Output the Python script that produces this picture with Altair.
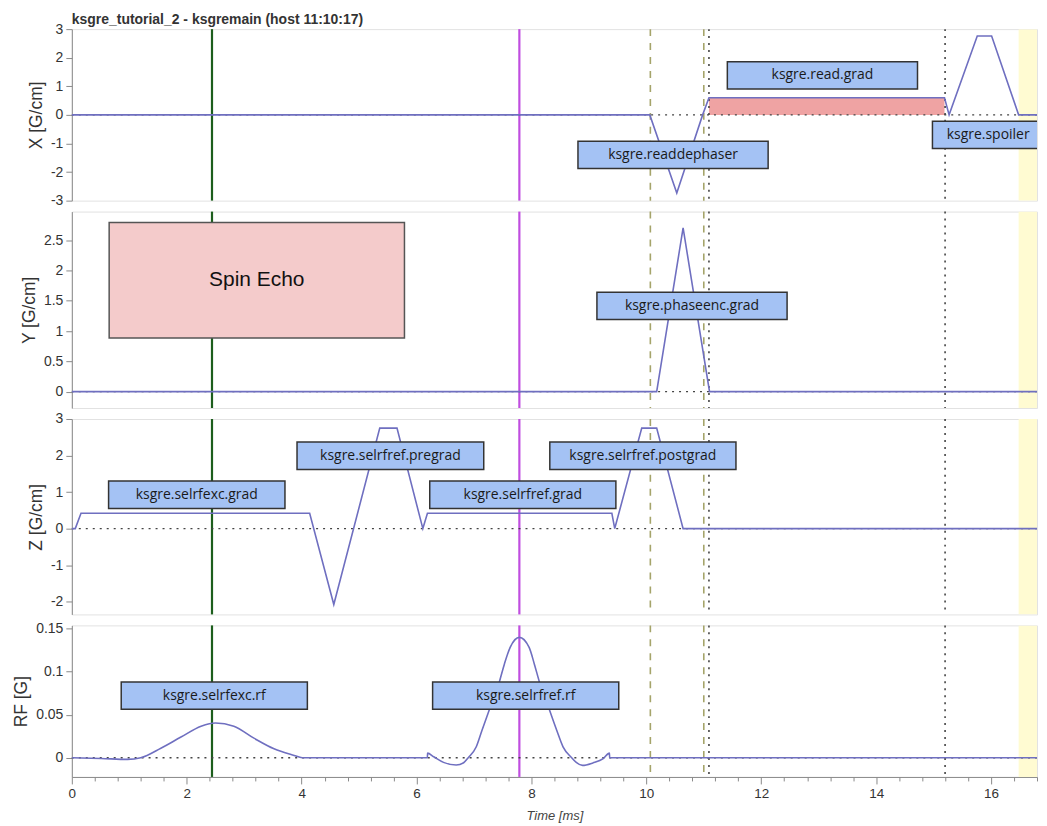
import altair as alt
import pandas as pd

# ---------------- data ----------------
T_MAX = 16.8
chart_title = "ksgre_tutorial_2 - ksgremain (host 11:10:17)"

# X gradient [G/cm]
gx_t = [0, 10.06, 10.53, 10.98, 11.09, 15.19, 15.27, 15.76, 16.01, 16.48, 16.8]
gx_v = [0, 0, -2.73, 0, 0.6, 0.6, 0, 2.76, 2.76, 0, 0]
# read gradient plateau (filled)
read_t = [11.09, 15.19]
read_v = [0.6, 0.6]

# Y gradient [G/cm]
gy_t = [0, 10.18, 10.64, 11.1, 16.8]
gy_v = [0, 0, 2.70, 0, 0]

# Z gradient [G/cm]
gz_t = [0, 0.06, 0.16, 4.14, 4.56, 5.36, 5.66, 6.11, 6.19, 9.40, 9.45, 9.92, 10.18, 10.64, 16.8]
gz_v = [0, 0, 0.42, 0.42, -2.08, 2.75, 2.75, 0, 0.42, 0.42, 0, 2.75, 2.75, 0, 0]

# RF [G]
rf_t = [0, 0.51, 0.97, 1.20, 1.55, 1.90, 2.25, 2.50, 2.82, 3.17, 3.52, 3.87, 4.01,
        6.19, 6.191, 6.30, 6.47, 6.69, 6.82, 6.90, 7.04, 7.14, 7.27, 7.44, 7.53, 7.63,
        7.79, 7.96, 8.05, 8.14, 8.31, 8.44, 8.55, 8.70, 8.78, 8.89, 9.07, 9.25, 9.359,
        9.36, 16.8]
rf_v = [0, -0.0008, -0.0019, 0, 0.011, 0.024, 0.0366, 0.0404, 0.0366, 0.0227, 0.0104, 0.0027, 0,
        0, 0.0054, 0.0011, -0.0054, -0.0085, -0.0058, 0, 0.0127, 0.0319, 0.0562, 0.0877, 0.1089, 0.1281,
        0.1397, 0.1281, 0.1089, 0.0877, 0.0562, 0.0319, 0.0127, 0, -0.0055, -0.0089, -0.0060, -0.0010, 0.0054,
        0, 0]

# vertical markers [ms]
mark_t = [2.44, 7.79, 10.07, 11.0, 11.09, 15.2]
mark_kind = ["exc", "ref", "dash", "dash", "dot", "dot"]

# yellow region
band_t = [16.48]
band_t2 = [16.8]

# annotation boxes
box_panel = ["X", "X", "X", "Y", "Z", "Z", "Z", "Z", "RF", "RF"]
box_label = ["ksgre.read.grad", "ksgre.readdephaser", "ksgre.spoiler", "ksgre.phaseenc.grad",
             "ksgre.selrfexc.grad", "ksgre.selrfref.pregrad", "ksgre.selrfref.grad",
             "ksgre.selrfref.postgrad", "ksgre.selrfexc.rf", "ksgre.selrfref.rf"]
box_t0 = [11.41, 8.81, 14.98, 9.14, 0.64, 3.92, 6.23, 8.32, 0.86, 6.28]
box_t1 = [14.72, 12.12, 16.92, 12.45, 3.71, 7.17, 9.47, 11.56, 4.10, 9.52]
box_v0 = [0.905, -1.88, -1.18, 1.19, 0.55, 1.62, 0.55, 1.62, 0.0562, 0.0562]
box_v1 = [1.86, -0.92, -0.22, 1.64, 1.30, 2.37, 1.30, 2.37, 0.0878, 0.0878]

# "Spin Echo" box in Y panel
se_label = ["Spin Echo"]
se_t0 = [0.65]
se_t1 = [5.79]
se_v0 = [0.887]
se_v1 = [2.79]

# panels
panel_keys = ["X", "Y", "Z", "RF"]
panel_titles = ["X [G/cm]", "Y [G/cm]", "Z [G/cm]", "RF [G]"]
panel_domains = [[-3, 3], [-0.27, 2.97], [-2.35, 3], [-0.0223, 0.1536]]
panel_ticks = [[-3, -2, -1, 0, 1, 2, 3], [0, 0.5, 1, 1.5, 2, 2.5],
               [-2, -1, 0, 1, 2, 3], [0, 0.05, 0.1, 0.15]]
x_ticks = [round(i * 0.4, 1) for i in range(43)]

# ---------------- tables ----------------
waves = {
    "X": pd.DataFrame({"t": gx_t, "v": gx_v, "i": range(len(gx_t))}),
    "Y": pd.DataFrame({"t": gy_t, "v": gy_v, "i": range(len(gy_t))}),
    "Z": pd.DataFrame({"t": gz_t, "v": gz_v, "i": range(len(gz_t))}),
    "RF": pd.DataFrame({"t": rf_t, "v": rf_v, "i": range(len(rf_t))}),
}
read_df = pd.DataFrame({"t": read_t, "v": read_v, "b": [0] * len(read_t)})
marks_df = pd.DataFrame({"t": mark_t, "kind": mark_kind})
band_df = pd.DataFrame({"t": band_t, "t2": band_t2})
zero_df = pd.DataFrame({"v": [0]})
box_df = pd.DataFrame({"panel": box_panel, "label": box_label, "t0": box_t0, "t1": box_t1,
                       "v0": box_v0, "v1": box_v1})
box_df["tc"] = (box_df["t0"] + box_df["t1"]) / 2
box_df["vc"] = (box_df["v0"] + box_df["v1"]) / 2
se_df = pd.DataFrame({"label": se_label, "t0": se_t0, "t1": se_t1, "v0": se_v0, "v1": se_v1})
se_df["tc"] = (se_df["t0"] + se_df["t1"]) / 2
se_df["vc"] = (se_df["v0"] + se_df["v1"]) / 2

# ---------------- styles ----------------
FONT = "Liberation Sans"
WAVE = "#6f6fc0"
AXC = "#8a8a8a"
LABC = "#333333"

xscale = alt.Scale(domain=[0, T_MAX], nice=False, zero=False)
xaxis = alt.Axis(
    values=x_ticks,
    labelExpr="datum.value % 2 === 0 ? '' + datum.value : ''",
    tickSize={"condition": {"test": "datum.value % 2 === 0", "value": 7}, "value": 4},
    labelFont=FONT, labelFontSize=13.5, labelColor=LABC, labelPadding=3,
    labelFlush=False, labelOverlap=False, grid=False,
    domainColor=AXC, tickColor=AXC,
    titleFont=FONT, titleFontSize=13, titleFontStyle="italic", titleFontWeight="normal",
    titleColor="#444444", titlePadding=9,
)

heights = [172, 197, 196, 152]


def make_panel(idx):
    key = panel_keys[idx]
    bottom = idx == len(panel_keys) - 1
    ysc = alt.Scale(domain=panel_domains[idx], nice=False, zero=False)
    yax = alt.Axis(
        values=panel_ticks[idx], labelExpr="'' + datum.value",
        labelFont=FONT, labelFontSize=14, labelColor=LABC, labelPadding=3,
        labelFlush=False, labelOverlap=False, grid=False,
        tickSize=6, domainColor=AXC, tickColor=AXC,
        titleFont=FONT, titleFontSize=17.5, titleFontWeight="normal", titleColor=LABC,
        titlePadding=5,
    )

    def X(f):
        kw = dict(scale=xscale)
        if bottom:
            kw["axis"] = xaxis
            kw["title"] = "Time [ms]"
        else:
            kw["axis"] = None
        return alt.X(f"{f}:Q", **kw)

    def Y(f):
        return alt.Y(f"{f}:Q", scale=ysc, axis=yax, title=panel_titles[idx])

    layers = []
    layers.append(alt.Chart(band_df).mark_rect(color="#fffbd2", clip=True)
                  .encode(x=X("t"), x2=alt.X2("t2")))
    if key == "X":
        layers.append(alt.Chart(read_df).mark_area(color="#efa3a3", clip=True)
                      .encode(x=X("t"), y=Y("v"), y2=alt.Y2("b")))
    layers.append(alt.Chart(marks_df[marks_df.kind == "exc"])
                  .mark_rule(color="#1d5e1d", strokeWidth=2.2).encode(x=X("t")))
    layers.append(alt.Chart(marks_df[marks_df.kind == "ref"])
                  .mark_rule(color="#c04ee0", strokeWidth=2.2).encode(x=X("t")))
    layers.append(alt.Chart(marks_df[marks_df.kind == "dash"])
                  .mark_rule(color="#a5a46a", strokeWidth=1.6, strokeDash=[7, 7]).encode(x=X("t")))
    layers.append(alt.Chart(marks_df[marks_df.kind == "dot"])
                  .mark_rule(color="#444444", strokeWidth=1.6, strokeDash=[2, 5]).encode(x=X("t")))
    layers.append(alt.Chart(zero_df)
                  .mark_rule(color="#444444", strokeWidth=1.3, strokeDash=[2, 5]).encode(y=Y("v")))
    layers.append(alt.Chart(waves[key])
                  .mark_line(color=WAVE, strokeWidth=1.6, clip=True,
                             interpolate="monotone" if key == "RF" else "linear")
                  .encode(x=X("t"), y=Y("v"), order="i:Q"))
    if key == "Y":
        layers.append(alt.Chart(se_df).mark_rect(fill="#f4cbcb", stroke="#555555", strokeWidth=1.5, clip=True)
                      .encode(x=X("t0"), x2=alt.X2("t1"), y=Y("v0"), y2=alt.Y2("v1")))
        layers.append(alt.Chart(se_df).mark_text(font=FONT, fontSize=21, color="#111111", clip=True)
                      .encode(x=X("tc"), y=Y("vc"), text="label:N"))
    bd = box_df[box_df.panel == key]
    layers.append(alt.Chart(bd).mark_rect(fill="#a4c2f4", stroke="#333333", strokeWidth=1.5, clip=True)
                  .encode(x=X("t0"), x2=alt.X2("t1"), y=Y("v0"), y2=alt.Y2("v1")))
    layers.append(alt.Chart(bd).mark_text(font="Open Sans", fontSize=14, color="#1a1a1a", clip=True)
                  .encode(x=X("tc"), y=Y("vc"), text="label:N"))

    props = dict(width=968, height=heights[idx])
    if idx == 0:
        props["title"] = alt.Title(chart_title, anchor="start", frame="group", font=FONT,
                                   fontSize=14, fontWeight="bold", color="#333333", offset=-5)
    return alt.layer(*layers).properties(**props)


chart = (
    alt.vconcat(*[make_panel(i) for i in range(4)], spacing=11, bounds="flush")
    .resolve_scale(y="independent")
    .properties(padding={"left": 4, "top": 3, "right": 0, "bottom": 0})
    .configure_view(stroke="#e2e2e2", strokeWidth=1)
)

chart.save("out.html", embed_options={"renderer": "svg", "actions": False})
